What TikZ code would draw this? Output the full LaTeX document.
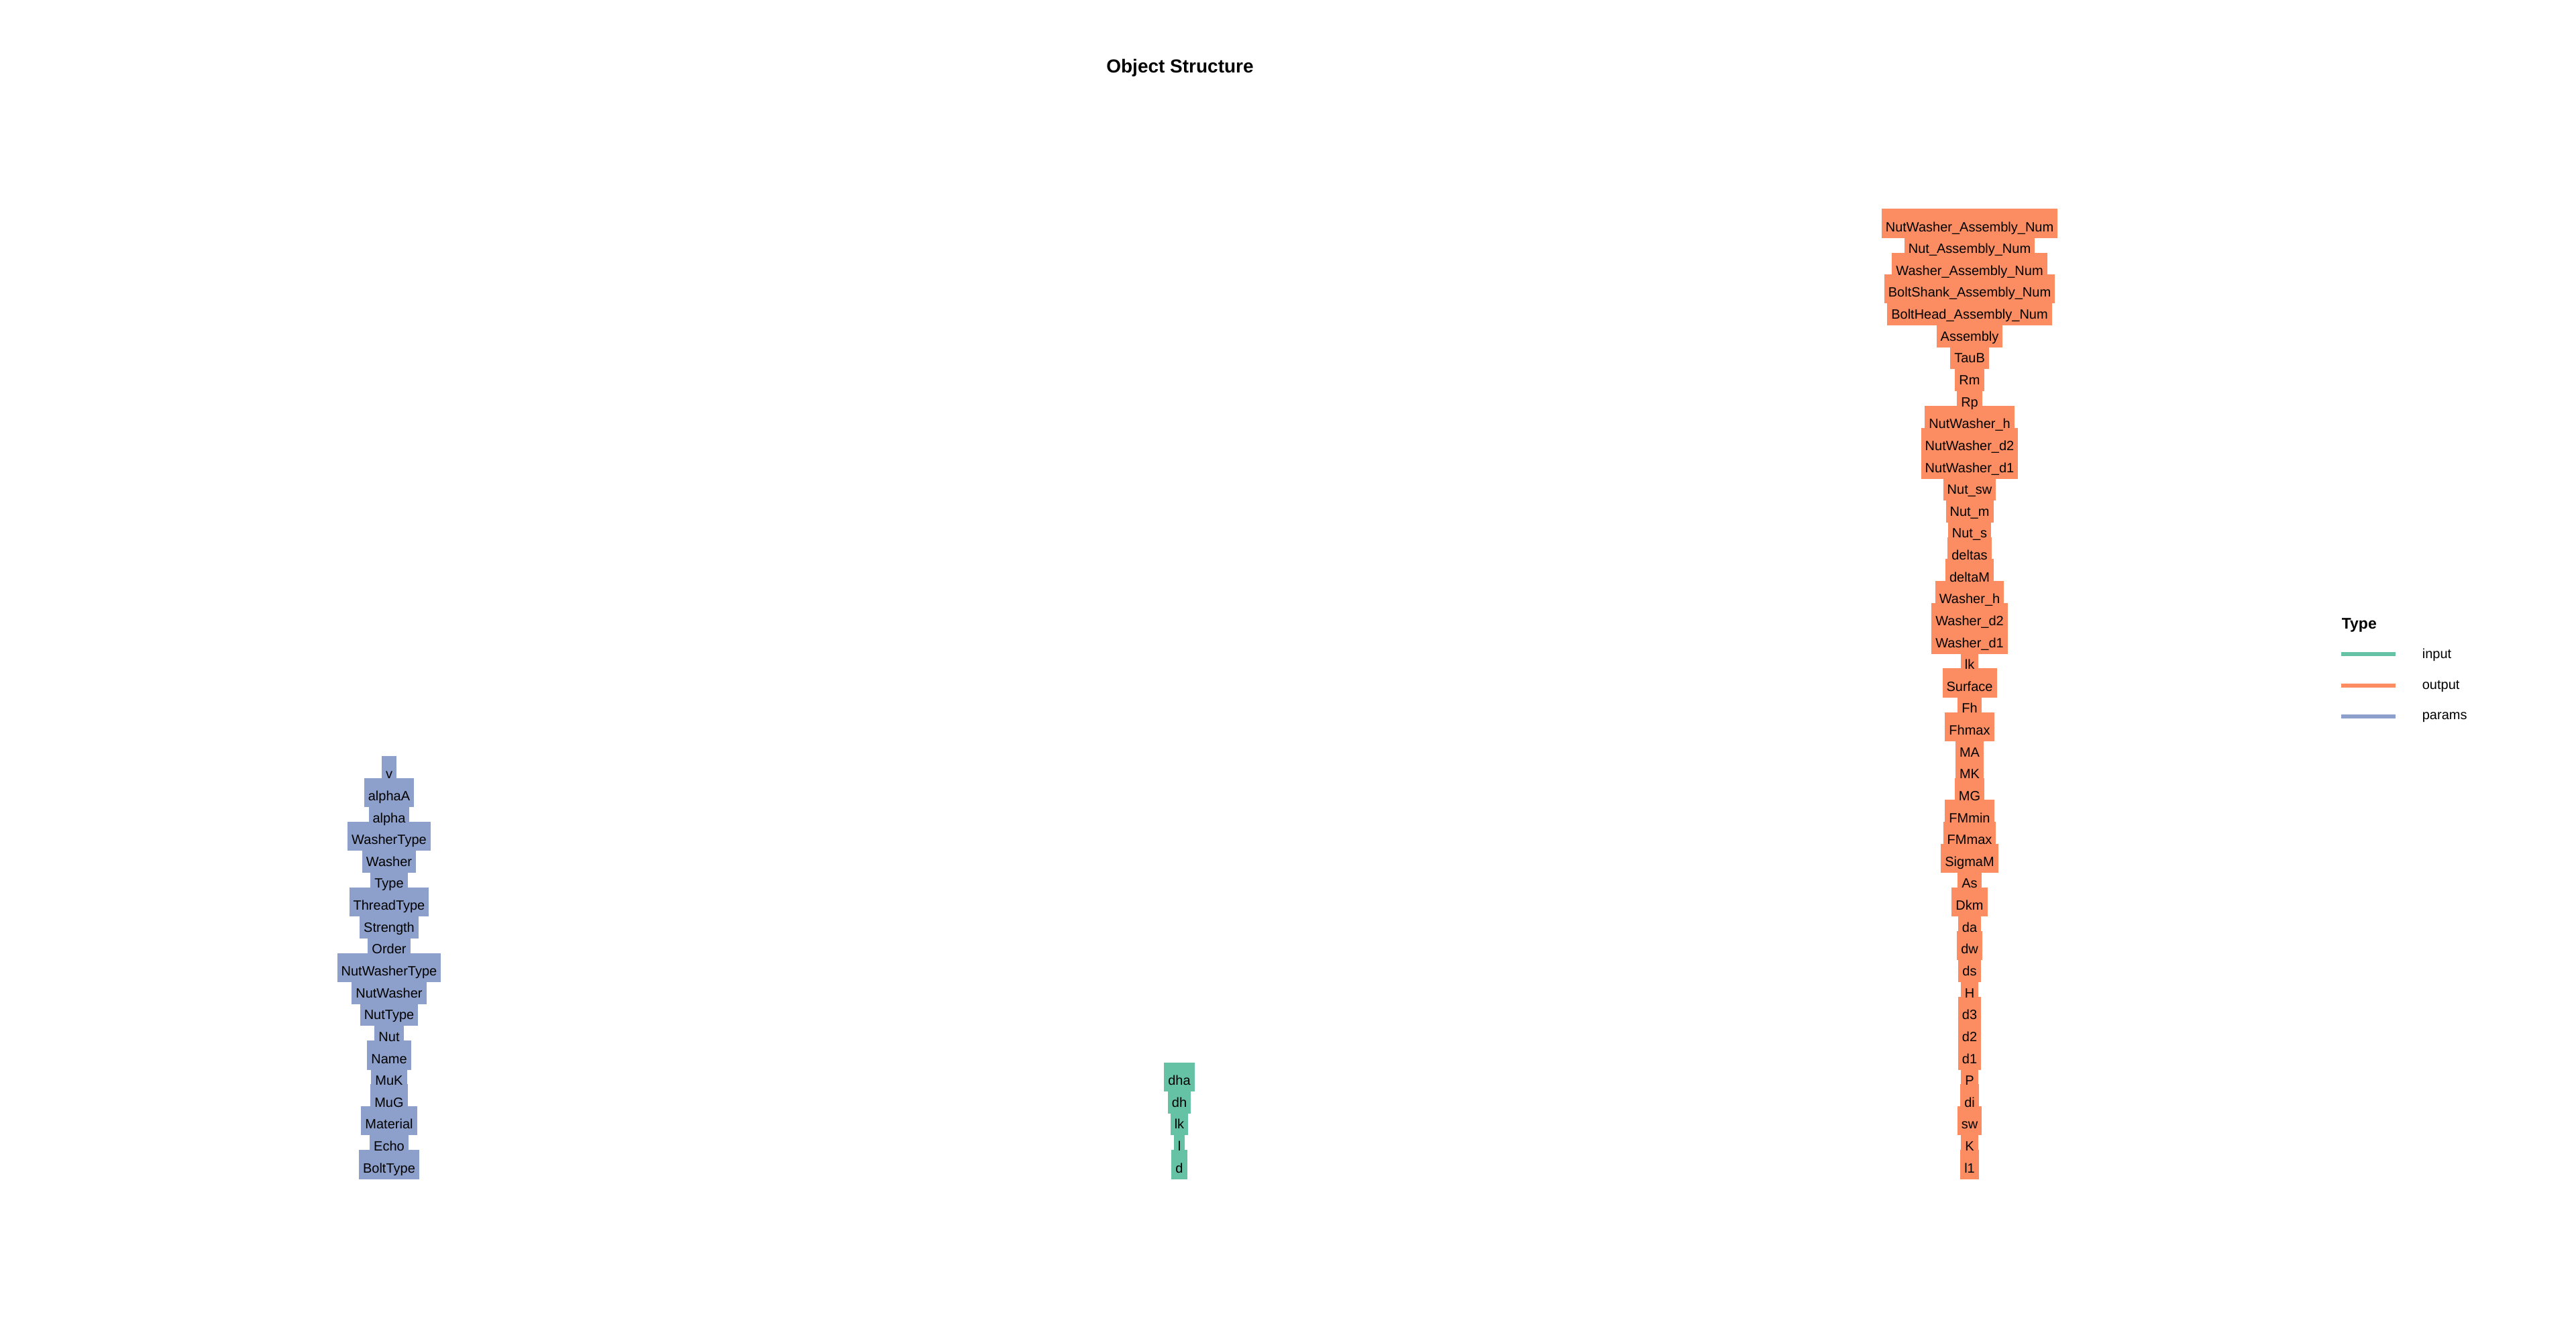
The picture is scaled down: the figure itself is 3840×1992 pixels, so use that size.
\documentclass[tikz,border=0pt]{standalone}
\usepackage{fontspec}
\setmainfont{Liberation Sans}
\usepackage{xcolor}
\usepackage{tikz}
\usetikzlibrary{positioning}
\definecolor{objinput}{HTML}{66C2A5}
\definecolor{objoutput}{HTML}{FC8D62}
\definecolor{objparams}{HTML}{8DA0CB}
\tikzset{
  objfield/.style={
    inner xsep=1.5pt,
    inner ysep=0pt,
    minimum height=8.3pt,
    text height=1.6ex,
    text depth=0.45ex,
    font=\fontsize{5pt}{6pt}\selectfont
  },
  objin/.style={objfield,fill=objinput},
  objout/.style={objfield,fill=objoutput},
  objpar/.style={objfield,fill=objparams},
  objkey/.style={line width=1.5pt},
  objkeytext/.style={anchor=west,inner sep=0pt,font=\fontsize{5pt}{6pt}\selectfont}
}

\begin{document}
\begin{tikzpicture}[x=0.25pt,y=-0.25pt]
  \fill[white] (0,0) rectangle (3840,1992);
  \path[use as bounding box] (0,0) rectangle (3840,1992);

  \node[font=\fontsize{7pt}{8pt}\selectfont\bfseries] (title) at (1759,101) {Object Structure};

  % params column, bottom up
  \foreach \lab [count=\i from 0] in {BoltType,Echo,Material,MuG,MuK,Name,Nut,NutType,
      NutWasher,NutWasherType,Order,Strength,ThreadType,Type,Washer,WasherType,alpha,alphaA,v}
    \node[objpar] (par-\i) at (580,{1736-32.63*\i}) {\lab};

  % input column
  \foreach \lab [count=\i from 0] in {d,l,lk,dh,dha}
    \node[objin] (in-\i) at (1758,{1736-32.63*\i}) {\lab};

  % output column
  \foreach \lab [count=\i from 0] in {l1,K,sw,di,P,d1,d2,d3,H,ds,dw,da,Dkm,As,SigmaM,FMmax,
      FMmin,MG,MK,MA,Fhmax,Fh,Surface,lk,Washer\_d1,Washer\_d2,Washer\_h,deltaM,deltas,
      Nut\_s,Nut\_m,Nut\_sw,NutWasher\_d1,NutWasher\_d2,NutWasher\_h,Rp,Rm,TauB,Assembly,
      BoltHead\_Assembly\_Num,BoltShank\_Assembly\_Num,Washer\_Assembly\_Num,
      Nut\_Assembly\_Num,NutWasher\_Assembly\_Num}
    \node[objout] (out-\i) at (2936,{1736-32.63*\i}) {\lab};

  % legend
  \node[objkeytext,font=\fontsize{5.75pt}{7pt}\selectfont\bfseries] (leg-title) at (3490,932) {Type};
  \node[objkeytext] (leg-in) at (3610,976) {input};
  \node[objkeytext] (leg-out) at (3610,1023) {output};
  \node[objkeytext] (leg-par) at (3610,1069) {params};
  \coordinate (key-in-a) at (3490,975);
  \coordinate (key-in-b) at (3571,975);
  \coordinate (key-out-a) at (3490,1022);
  \coordinate (key-out-b) at (3571,1022);
  \coordinate (key-par-a) at (3490,1068);
  \coordinate (key-par-b) at (3571,1068);
  \draw[objkey,objinput] (key-in-a) -- (key-in-b);
  \draw[objkey,objoutput] (key-out-a) -- (key-out-b);
  \draw[objkey,objparams] (key-par-a) -- (key-par-b);
\end{tikzpicture}
\end{document}
